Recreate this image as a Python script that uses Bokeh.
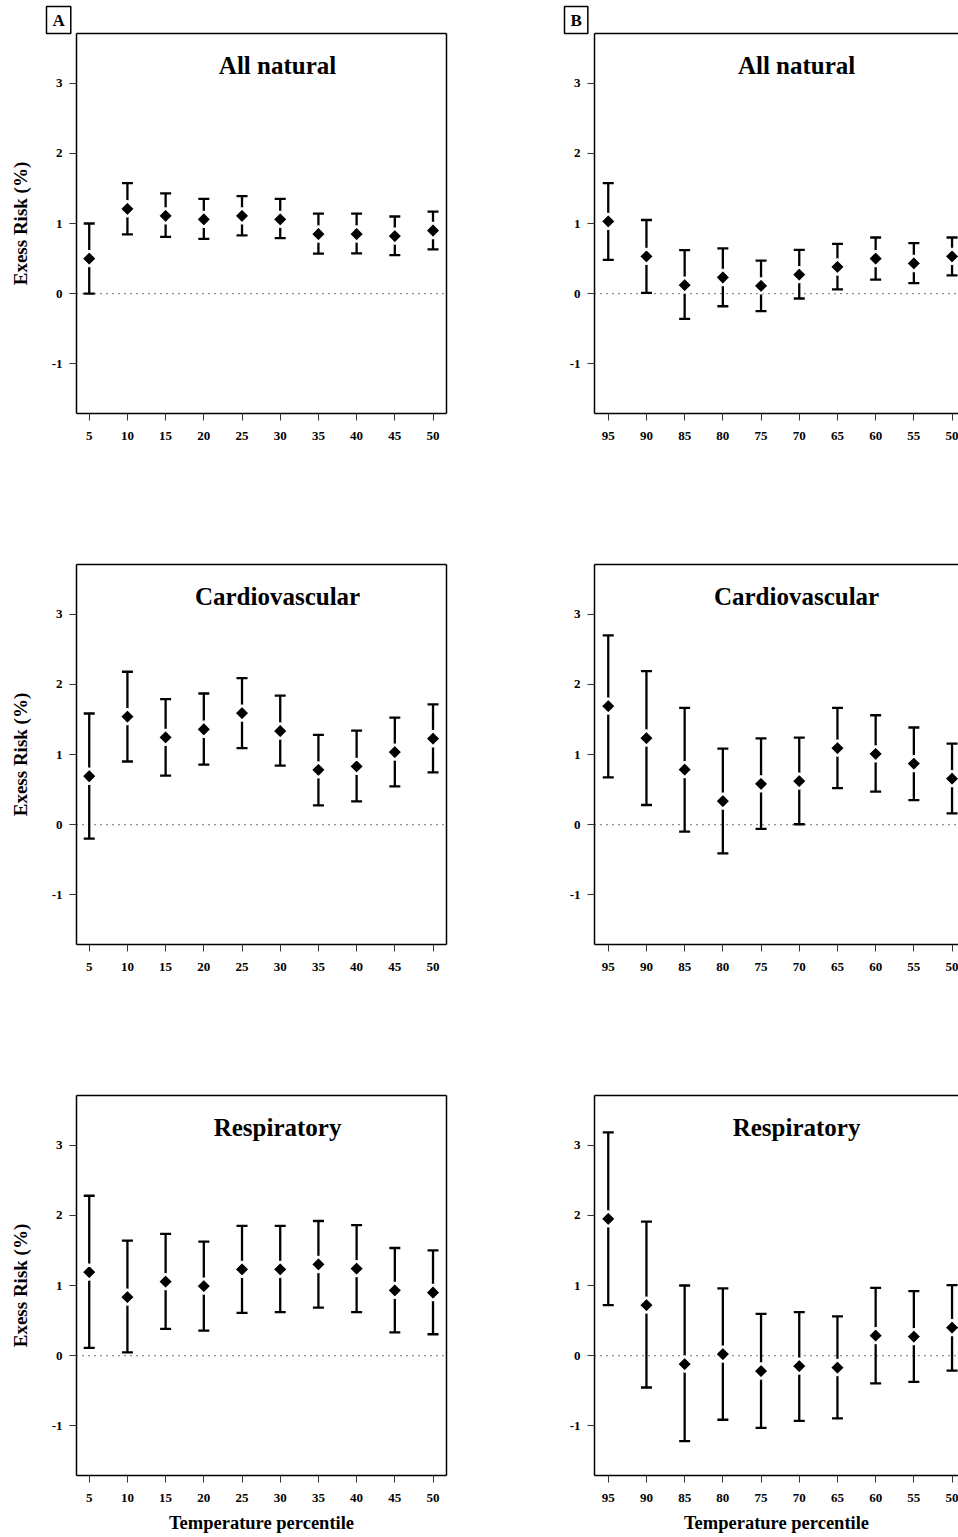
import numpy as np
from bokeh.plotting import figure
from bokeh.layouts import column, row
from bokeh.models import (Range1d, FixedTicker, LinearAxis, Whisker, TeeHead,
                          ColumnDataSource, Span, Label)
from bokeh.embed import file_html
from bokeh.resources import INLINE

# ---------------- data ----------------
cold_percentiles = ["5", "10", "15", "20", "25", "30", "35", "40", "45", "50"]
hot_percentiles = ["95", "90", "85", "80", "75", "70", "65", "60", "55", "50"]
y_ticks = [-1, 0, 1, 2, 3]

natural_cold_est = [0.50, 1.21, 1.11, 1.06, 1.11, 1.06, 0.85, 0.85, 0.82, 0.90]
natural_cold_lo = [0.00, 0.845, 0.81, 0.78, 0.83, 0.79, 0.57, 0.575, 0.55, 0.63]
natural_cold_hi = [1.00, 1.575, 1.43, 1.35, 1.39, 1.35, 1.14, 1.14, 1.10, 1.17]

natural_hot_est = [1.03, 0.53, 0.12, 0.23, 0.11, 0.27, 0.38, 0.50, 0.43, 0.53]
natural_hot_lo = [0.48, 0.01, -0.36, -0.18, -0.25, -0.07, 0.06, 0.20, 0.15, 0.26]
natural_hot_hi = [1.575, 1.05, 0.62, 0.645, 0.47, 0.625, 0.71, 0.80, 0.72, 0.80]

cardio_cold_est = [0.69, 1.54, 1.245, 1.36, 1.59, 1.335, 0.78, 0.83, 1.035, 1.225]
cardio_cold_lo = [-0.20, 0.90, 0.70, 0.855, 1.09, 0.84, 0.275, 0.33, 0.545, 0.745]
cardio_cold_hi = [1.585, 2.18, 1.79, 1.87, 2.09, 1.84, 1.28, 1.34, 1.525, 1.715]

cardio_hot_est = [1.69, 1.235, 0.785, 0.335, 0.58, 0.62, 1.09, 1.01, 0.87, 0.655]
cardio_hot_lo = [0.675, 0.28, -0.10, -0.41, -0.06, 0.005, 0.52, 0.47, 0.35, 0.16]
cardio_hot_hi = [2.70, 2.19, 1.665, 1.085, 1.23, 1.24, 1.665, 1.56, 1.385, 1.155]

resp_cold_est = [1.19, 0.835, 1.055, 0.99, 1.23, 1.23, 1.30, 1.24, 0.93, 0.90]
resp_cold_lo = [0.11, 0.045, 0.38, 0.355, 0.61, 0.62, 0.685, 0.62, 0.33, 0.305]
resp_cold_hi = [2.28, 1.64, 1.735, 1.625, 1.85, 1.85, 1.92, 1.86, 1.535, 1.50]

resp_hot_est = [1.95, 0.72, -0.12, 0.02, -0.22, -0.15, -0.17, 0.285, 0.27, 0.40]
resp_hot_lo = [0.72, -0.455, -1.22, -0.915, -1.03, -0.93, -0.895, -0.395, -0.375, -0.215]
resp_hot_hi = [3.185, 1.91, 1.00, 0.96, 0.595, 0.62, 0.56, 0.965, 0.92, 1.005]

FONT = "Liberation Serif"
Y_START, Y_END = -1.71, 3.71
TITLE_X, TITLE_Y = 5.93, 3.26


def make_panel(est, lo, hi, tick_labels, title, letter, left_col, row_idx):
    bottom_row = row_idx == 2
    width = 496 if left_col else 462
    bl = 76 if left_col else 98
    br = 50 if left_col else 0
    bt = 33 if row_idx == 0 else 25
    bb = 62 if bottom_row else 126
    height = bt + 380 + bb
    frame_w = width - bl - br
    px_per = 38.2
    x_start = 0.667 if left_col else 0.64
    x_end = x_start + frame_w / px_per

    p = figure(width=width, height=height, output_backend="svg", toolbar_location=None,
               x_range=Range1d(x_start, x_end), y_range=Range1d(Y_START, Y_END),
               min_border_left=bl, min_border_right=br, min_border_top=bt,
               min_border_bottom=bb)
    p.grid.visible = False
    p.outline_line_color = None
    p.background_fill_color = "white"
    p.border_fill_color = "white"

    xs = list(range(1, len(est) + 1))

    # axes
    yax = p.yaxis[0]
    yax.ticker = FixedTicker(ticks=y_ticks)
    yax.major_label_overrides = {t: str(t) for t in y_ticks}
    xax = p.xaxis[0]
    xax.ticker = FixedTicker(ticks=xs)
    xax.major_label_overrides = {x: lab for x, lab in zip(xs, tick_labels)}
    for ax in (xax, yax):
        ax.major_tick_out = 7
        ax.major_tick_in = 0
        ax.minor_tick_out = 0
        ax.minor_tick_in = 0
        ax.minor_tick_line_color = None
        ax.major_tick_line_color = "#333333"
        ax.major_tick_line_width = 1
        ax.axis_line_color = "black"
        ax.axis_line_width = 1.5
        ax.major_label_text_font = FONT
        ax.major_label_text_font_style = "bold"
        ax.major_label_text_font_size = "13px"
        ax.major_label_text_color = "black"
        ax.axis_label_text_color = "black"
    yax.major_label_standoff = 7
    xax.major_label_standoff = 11
    if left_col:
        yax.axis_label = "Exess Risk (%)"
        yax.axis_label_text_font = FONT
        yax.axis_label_text_font_style = "bold"
        yax.axis_label_text_font_size = "19px"
        yax.axis_label_standoff = 18
    if bottom_row:
        xax.axis_label = "Temperature percentile"
        xax.axis_label_text_font = FONT
        xax.axis_label_text_font_style = "bold"
        xax.axis_label_text_font_size = "18.5px"
        xax.axis_label_standoff = 8

    def frame_axis():
        return LinearAxis(ticker=FixedTicker(ticks=[]), major_label_text_font_size="0px",
                          major_tick_out=0, major_tick_in=0, minor_tick_out=0, minor_tick_in=0,
                          major_label_standoff=0, axis_line_color="black", axis_line_width=1.5)

    p.add_layout(frame_axis(), "above")
    if left_col:
        p.add_layout(frame_axis(), "right")

    # zero reference line
    p.add_layout(Span(location=0, dimension="width", line_dash="1 5", line_width=1.4,
                      line_color="#222222", level="underlay"))

    src = ColumnDataSource(dict(x=xs, est=est, lo=lo, hi=hi))
    p.add_layout(Whisker(base="x", upper="hi", lower="lo", source=src, dimension="height",
                         line_width=2.3, line_color="black", level="underlay",
                         upper_head=TeeHead(size=11, line_width=2.3, line_color="black"),
                         lower_head=TeeHead(size=11, line_width=2.3, line_color="black")))
    p.scatter("x", "est", source=src, marker="square", angle=np.pi / 4, size=11,
              fill_color="black", line_color="white", line_width=2.5)

    p.add_layout(Label(x=TITLE_X, y=TITLE_Y, text=title, text_align="center",
                       text_baseline="middle", text_font=FONT, text_font_style="bold",
                       text_font_size="25px", text_color="black"))
    if letter:
        t = p.title
        t.text = letter
        t.align = "left"
        t.offset = -30
        t.standoff = 0
        t.text_font = FONT
        t.text_font_style = "bold"
        t.text_font_size = "17px"
        t.text_color = "black"
        t.border_line_color = "black"
        t.border_line_width = 1.5
        t.background_fill_color = "white"
        t.padding = (6, 4)
    return p


pA = make_panel(natural_cold_est, natural_cold_lo, natural_cold_hi, cold_percentiles, "All natural", "A", True, 0)
pB = make_panel(natural_hot_est, natural_hot_lo, natural_hot_hi, hot_percentiles, "All natural", "B", False, 0)
pC = make_panel(cardio_cold_est, cardio_cold_lo, cardio_cold_hi, cold_percentiles, "Cardiovascular", None, True, 1)
pD = make_panel(cardio_hot_est, cardio_hot_lo, cardio_hot_hi, hot_percentiles, "Cardiovascular", None, False, 1)
pE = make_panel(resp_cold_est, resp_cold_lo, resp_cold_hi, cold_percentiles, "Respiratory", None, True, 2)
pF = make_panel(resp_hot_est, resp_hot_lo, resp_hot_hi, hot_percentiles, "Respiratory", None, False, 2)

layout = column(row(pA, pB), row(pC, pD), row(pE, pF))
open("out.html", "w").write(file_html(layout, INLINE))
